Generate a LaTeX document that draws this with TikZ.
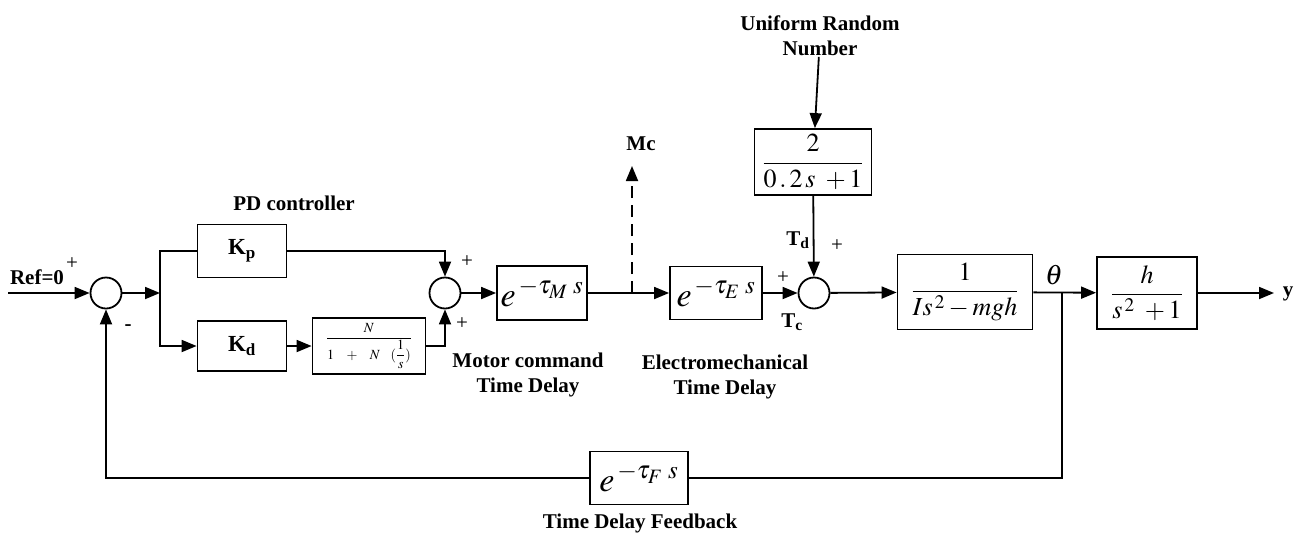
\documentclass[tikz,border=0pt]{standalone}
\usepackage{amsmath}
\usepackage{mathptmx}
\usepackage{fontspec}
\setmainfont{Liberation Serif}
\usetikzlibrary{arrows.meta}
\begin{document}
\begin{tikzpicture}[x=1pt,y=-1pt,line width=1.8pt,
  blk/.style={draw,rectangle,inner sep=0pt},
  sumc/.style={draw,circle,minimum size=31pt,inner sep=0pt},
  lbl/.style={font=\fontsize{21}{25}\selectfont\bfseries,align=center,inner sep=0pt},
  klbl/.style={font=\fontsize{23}{25}\selectfont\bfseries,inner sep=0pt},
  sgn/.style={font=\fontsize{21}{22}\selectfont,inner sep=0pt},
  bigm/.style={font=\fontsize{34}{36}\selectfont},
  midm/.style={font=\fontsize{26}{30}\selectfont},
  arr/.style={-{Triangle[length=15pt,width=12pt]}}]
\useasboundingbox (0,0) rectangle (1301,536);
% nodes
\node[sumc] (s1) at (106,293) {};
\coordinate (ref) at (8,293);
\coordinate (br) at (160,293);
\node[blk,minimum width=89,minimum height=53,klbl] (kp) at (242,251) {K\textsubscript{p}};
\node[blk,minimum width=89,minimum height=50,klbl] (kd) at (242,346) {K\textsubscript{d}};
\node[blk,minimum width=113,minimum height=56,font=\fontsize{14}{16}\selectfont] (nb) at (369,346)
  {$\dfrac{N}{1\ \ \ +\ \ \ N\ \ \ (\dfrac{1}{s})}$};
\node[sumc] (s2) at (445,293) {};
\node[blk,minimum width=90,minimum height=54,bigm] (md) at (542,293) {$e^{\,-\tau_{M}\;s}$};
\coordinate (mc) at (632,293);
\coordinate (mctip) at (632,166);
\node[blk,minimum width=92,minimum height=53,bigm] (ed) at (716,293) {$e^{\,-\tau_{E}\;s}$};
\node[sumc] (s3) at (814,293) {};
\node[blk,minimum width=117,minimum height=66,midm] (dist) at (813,162) {$\dfrac{2}{0\,.\,2\,s\ +1}$};
\node[lbl] (urn) at (820,36) {Uniform Random\\Number};
\node[blk,minimum width=135,minimum height=75,midm] (plant) at (965,292) {$\dfrac{1}{Is^{\,2}-mgh}$};
\coordinate (b2) at (1062,293);
\node[blk,minimum width=100,minimum height=72,midm] (out) at (1147,293) {$\dfrac{h}{s^{\,2}\ +1}$};
\coordinate (yend) at (1274,293);
\node[lbl,anchor=west] (ylab) at (1282,294) {y};
\coordinate (fbr) at (1062,478);
\node[blk,minimum width=98,minimum height=53,bigm,fill=white] (fb) at (639,478) {$e^{\,-\tau_{F}\;s}$};
% connectors
\draw[arr] (ref) -- (s1);
\draw[arr] (s1) -- (br);
\draw (br) |- (kp.west);
\draw[arr] (br) |- (kd.west);
\draw[arr] (kd) -- (nb);
\draw[arr] (kp.east) -| (s2.north);
\draw[arr] (nb.east) -| (s2.south);
\draw[arr] (s2) -- (md);
\draw[arr] (md) -- (ed);
\draw[arr,dash pattern=on 12pt off 7pt] (mc) -- (mctip);
\draw[arr] (ed) -- (s3);
\draw[arr] (urn) -- (dist);
\draw[arr] (dist) -- (s3);
\draw[arr] (s3) -- (plant);
\draw[arr] (plant) -- (out);
\draw[arr] (out) -- (yend);
\draw (b2) -- (fbr) -- (fb.east);
\draw[arr] (fb.west) -| (s1.south);
% labels
\node[lbl] (reflab) at (37,277) {Ref=0};
\node[sgn] (refplus) at (72,264) {+};
\node[lbl] (pdlab) at (294,203) {PD controller};
\node[sgn] (p1) at (467,262) {+};
\node[sgn] (p2) at (462,324) {+};
\node[lbl] (mlab) at (528,375) {Motor command\\Time Delay};
\node[lbl] (elab) at (725,377) {Electromechanical\\Time Delay};
\node[lbl] (mclab) at (641,144) {Mc};
\node[lbl] (tdlab) at (798,240) {T\textsubscript{d}};
\node[sgn] (p3) at (837,246) {+};
\node[sgn] (p4) at (783,278) {+};
\node[lbl] (tclab) at (792,322) {T\textsubscript{c}};
\node[font=\fontsize{28}{30}\selectfont] (th) at (1054,275) {$\theta$};
\node[lbl] (minus) at (128,328) {-};
\node[lbl] (fblab) at (640,523) {Time Delay Feedback};
\end{tikzpicture}
\end{document}
